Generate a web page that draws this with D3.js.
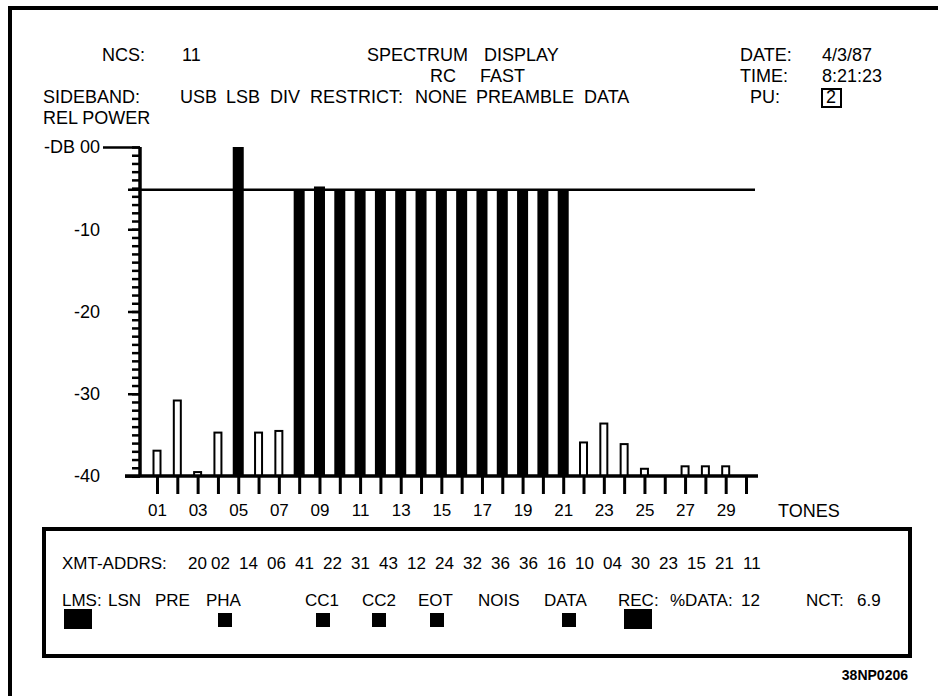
<!DOCTYPE html>
<meta charset="utf-8">
<style>
    body { margin: 0; background: #fff; }
    svg { display: block; font-family: "Liberation Sans", Arial, Helvetica, sans-serif; }
    text { fill: #000; font-size: 18px; }
    text.small { font-size: 17px; }
    .axis path { display: none; }
    .axis line { stroke: #000; }
</style>
<svg width="938" height="696"></svg>
<script src="https://d3js.org/d3.v7.min.js"></script>
<script>

    // tone number, relative power (dB) and whether the tone is an active (filled) one
    var tones = [1, 2, 3, 4, 5, 6, 7, 8, 9, 10, 11, 12, 13, 14, 15, 16, 17, 18, 19, 20, 21, 22, 23, 24, 25, 26, 27, 28, 29, 30];
    var power = [-36.8, -30.7, -39.4, -34.6, 0, -34.6, -34.4, -5.2, -4.8, -5.2, -5.2, -5.2, -5.2, -5.2, -5.2,
                 -5.2, -5.2, -5.2, -5.2, -5.2, -5.2, -35.8, -33.5, -36.0, -39.0, null, -38.7, -38.7, -38.7, null];
    var active = [0, 0, 0, 0, 1, 0, 0, 1, 1, 1, 1, 1, 1, 1, 1, 1, 1, 1, 1, 1, 1, 0, 0, 0, 0, 0, 0, 0, 0, 0];
    var refLevel = -5.2;

    var toneLabels = ["01", "03", "05", "07", "09", "11", "13", "15", "17", "19", "21", "23", "25", "27", "29"];
    var dbTicks = [0, -10, -20, -30, -40];
    var dbLabels = ["-DB 00", "-10", "-20", "-30", "-40"];

    var xmtAddrs = ["20", "02", "14", "06", "41", "22", "31", "43", "12", "24", "32", "36", "36", "16", "10", "04", "30", "23", "15", "21", "11"];
    var lmsNames = ["LMS:", "LSN", "PRE", "PHA", "CC1", "CC2", "EOT", "NOIS", "DATA", "REC:"];
    var lmsLit = [2, 0, 0, 1, 1, 1, 1, 0, 1, 2];   // 0 off, 1 small lamp, 2 big lamp

    var svg = d3.select("svg");

    var x = d3.scaleLinear().domain([1, 30]).range([157, 746]),
        y = d3.scaleLinear().domain([-40, 0]).range([476, 147]);

    // outer frame
    svg.append("rect")
        .attr("x", 10).attr("y", 8)
        .attr("width", 940).attr("height", 700)
        .attr("fill", "none").attr("stroke", "#000").attr("stroke-width", 4);

    function label(px, py, s, cls) {
        return svg.append("text").attr("class", cls || null).attr("x", px).attr("y", py).text(s);
    }

    // header
    label(102, 61, "NCS:");
    label(182, 61, "11");
    label(367, 61, "SPECTRUM");
    label(484, 61, "DISPLAY");
    label(740, 61, "DATE:");
    label(822, 61, "4/3/87");

    label(430, 82, "RC");
    label(480, 82, "FAST");
    label(740, 82, "TIME:");
    label(822, 82, "8:21:23");

    label(43, 103, "SIDEBAND:");
    label(180, 103, "USB");
    label(226, 103, "LSB");
    label(270, 103, "DIV");
    label(310, 103, "RESTRICT:");
    label(415, 103, "NONE");
    label(476, 103, "PREAMBLE");
    label(584, 103, "DATA");
    label(750, 103, "PU:");
    label(826, 103, "2");
    svg.append("rect")
        .attr("x", 822).attr("y", 89).attr("width", 19).attr("height", 18)
        .attr("fill", "none").attr("stroke", "#000").attr("stroke-width", 2);

    label(43, 124, "REL POWER");

    // y axis: minor ticks every dB, major every 10
    svg.append("g")
        .attr("class", "axis")
        .attr("transform", "translate(140,0)")
        .call(d3.axisLeft(y).tickValues(d3.range(-40, 1)).tickSize(8).tickFormat(""))
        .selectAll("line").attr("stroke-width", 2.5);

    var yMajor = svg.append("g")
        .attr("class", "axis")
        .attr("transform", "translate(140,0)")
        .call(d3.axisLeft(y).tickValues(dbTicks).tickSize(12).tickPadding(28)
            .tickFormat(function(d, i) { return dbLabels[i]; }));
    yMajor.attr("font-size", null).attr("font-family", null);
    yMajor.selectAll("line")
        .attr("stroke-width", 2.5)
        .attr("x2", function(d) { return d === 0 ? -37 : d === -40 ? -15 : -12; });

    svg.append("line")
        .attr("x1", 140).attr("x2", 140).attr("y1", y(0)).attr("y2", y(-40))
        .attr("stroke", "#000").attr("stroke-width", 3.5);

    // reference level
    svg.append("line")
        .attr("x1", 128).attr("x2", 755).attr("y1", y(refLevel)).attr("y2", y(refLevel))
        .attr("stroke", "#000").attr("stroke-width", 2.5);

    // bars
    var bars = tones.map(function(t, i) { return {tone: t, db: power[i], on: active[i]}; })
        .filter(function(d) { return d.db !== null; });

    svg.selectAll(".bar")
        .data(bars)
        .enter().append("rect")
        .attr("class", "bar")
        .attr("x", function(d) { return d.on ? x(d.tone) - 5.5 : x(d.tone) - 3.5; })
        .attr("width", function(d) { return d.on ? 11 : 7; })
        .attr("y", function(d) { return d.on ? y(d.db) : y(d.db) + 1; })
        .attr("height", function(d) { return d.on ? y(-40) - y(d.db) : y(-40) - y(d.db) - 1; })
        .attr("fill", function(d) { return d.on ? "#000" : "#fff"; })
        .attr("stroke", "#000")
        .attr("stroke-width", function(d) { return d.on ? 0 : 2; });

    // x axis
    var xAxis = svg.append("g")
        .attr("class", "axis")
        .attr("transform", "translate(0," + y(-40) + ")")
        .call(d3.axisBottom(x).tickValues(tones).tickSize(18).tickPadding(10)
            .tickFormat(function(d) { var s = d3.format("02")(d); return toneLabels.indexOf(s) >= 0 ? s : ""; }));
    xAxis.attr("font-size", null).attr("font-family", null);
    xAxis.selectAll("line").attr("stroke-width", 3);
    xAxis.selectAll("text").attr("class", "small");

    svg.append("line")
        .attr("x1", 125).attr("x2", 758).attr("y1", y(-40)).attr("y2", y(-40))
        .attr("stroke", "#000").attr("stroke-width", 3.5);

    label(778, 517, "TONES");

    // status box
    svg.append("rect")
        .attr("x", 44).attr("y", 529).attr("width", 866).attr("height", 127)
        .attr("fill", "none").attr("stroke", "#000").attr("stroke-width", 4);

    label(62, 569, "XMT-ADDRS:", "small");
    var addrX = d3.scaleLinear().domain([1, xmtAddrs.length - 1]).range([211, 743]);
    svg.selectAll(".addr")
        .data(xmtAddrs)
        .enter().append("text")
        .attr("class", "small")
        .attr("x", function(d, i) { return i === 0 ? addrX(1) - 23 : addrX(i); })
        .attr("y", 569)
        .text(function(d) { return d; });

    var lmsX = [62, 108, 155, 206, 305, 362, 418, 478, 544, 618];
    var lampX = [64, 0, 0, 218, 316, 372, 430, 0, 562, 624];
    svg.selectAll(".lms")
        .data(lmsNames)
        .enter().append("text")
        .attr("class", "small")
        .attr("x", function(d, i) { return lmsX[i]; })
        .attr("y", 606)
        .text(function(d) { return d; });

    svg.selectAll(".lamp")
        .data(lmsLit.map(function(v, i) { return {v: v, i: i}; }).filter(function(d) { return d.v > 0; }))
        .enter().append("rect")
        .attr("class", "lamp")
        .attr("x", function(d) { return lampX[d.i]; })
        .attr("y", function(d) { return d.v === 2 ? 609 : 613; })
        .attr("width", function(d) { return d.v === 2 ? 28 : 14; })
        .attr("height", function(d) { return d.v === 2 ? 20 : 14; })
        .attr("fill", "#000");

    label(670, 606, "%DATA:", "small");
    label(741, 606, "12", "small");
    label(806, 606, "NCT:", "small");
    label(857, 606, "6.9", "small");

    svg.append("text")
        .attr("x", 908).attr("y", 680)
        .attr("text-anchor", "end")
        .attr("font-weight", "bold")
        .style("font-size", "14px")
        .text("38NP0206");

</script>
